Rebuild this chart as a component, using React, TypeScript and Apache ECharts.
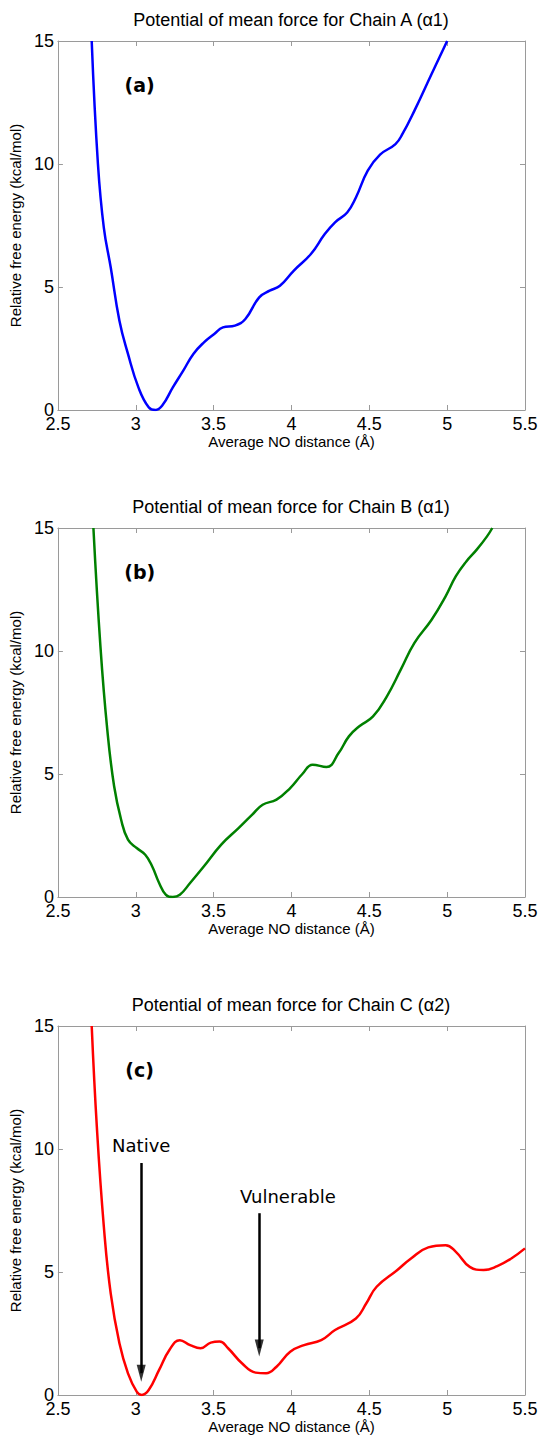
import React, { useEffect, useRef } from "react";
import * as echarts from "echarts";

// ---- Data ----
const xA = [2.717, 2.757, 2.795, 2.839, 2.895, 2.95, 3.017, 3.083, 3.127, 3.17, 3.238, 3.305, 3.37, 3.438, 3.504, 3.56, 3.637, 3.704, 3.793, 3.86, 3.926, 4.014, 4.125, 4.214, 4.28, 4.358, 4.414, 4.49, 4.569, 4.668, 4.713, 4.79, 4.9, 5.0];
const yA = [15, 10.0, 7.4, 5.8, 3.63, 2.28, 0.92, 0.11, 0, 0.18, 0.92, 1.6, 2.28, 2.75, 3.09, 3.36, 3.43, 3.7, 4.58, 4.85, 5.05, 5.66, 6.34, 7.15, 7.63, 8.03, 8.64, 9.73, 10.38, 10.81, 11.22, 12.17, 13.66, 15];

const xB = [2.728, 2.773, 2.817, 2.861, 2.906, 2.95, 3.006, 3.061, 3.105, 3.15, 3.194, 3.238, 3.283, 3.349, 3.438, 3.549, 3.66, 3.748, 3.815, 3.904, 3.992, 4.07, 4.136, 4.225, 4.303, 4.369, 4.436, 4.524, 4.613, 4.702, 4.79, 4.9, 4.99, 5.056, 5.123, 5.19, 5.256, 5.29];
const yB = [15, 10.19, 6.8, 4.5, 3.14, 2.33, 1.99, 1.72, 1.25, 0.57, 0.09, 0, 0.09, 0.57, 1.25, 2.13, 2.8, 3.35, 3.75, 3.96, 4.43, 5.0, 5.38, 5.28, 5.85, 6.53, 6.94, 7.34, 8.16, 9.24, 10.33, 11.27, 12.22, 13.04, 13.64, 14.12, 14.66, 15];

const xC = [2.717, 2.75, 2.795, 2.839, 2.895, 2.95, 3.006, 3.039, 3.083, 3.15, 3.216, 3.283, 3.349, 3.416, 3.482, 3.538, 3.593, 3.682, 3.77, 3.837, 3.904, 3.992, 4.081, 4.191, 4.28, 4.414, 4.48, 4.547, 4.68, 4.768, 4.879, 4.99, 5.056, 5.145, 5.234, 5.322, 5.412, 5.5];
const yC = [15, 10.9, 6.84, 4.13, 2.1, 0.88, 0.14, 0, 0.2, 1.02, 1.83, 2.23, 2.03, 1.9, 2.13, 2.17, 1.9, 1.29, 0.91, 0.88, 1.15, 1.76, 2.03, 2.23, 2.64, 3.11, 3.72, 4.4, 5.08, 5.55, 6.0, 6.09, 5.82, 5.21, 5.08, 5.24, 5.55, 5.96];

const titles = [
  "Potential of mean force for Chain A (\u03b11)",
  "Potential of mean force for Chain B (\u03b11)",
  "Potential of mean force for Chain C (\u03b12)",
];
const panelLabels = ["(a)", "(b)", "(c)"];
const panelLabelPos = [3.03, 13.2];
const colors = ["#0000ff", "#008000", "#ff0000"];

const arrowNames = ["Native", "Vulnerable"];
const arrowX = [3.035, 3.793];
const arrowTop = [9.43, 7.39];
const arrowTip = [0.54, 1.56];
const arrowLabelPos = [
  [3.04, 10.15],
  [3.98, 8.05],
];

const xMin = 2.5, xMax = 5.5, xStep = 0.5;
const yMin = 0, yMax = 15, yStep = 5;

const X_NAME = "Average NO distance (\u00c5)";
const Y_NAME = "Relative free energy (kcal/mol)";

// ---- Layout ----
const W = 542, H = 1439;
const GL = 57, GW = 468;
const gridTops = [41, 528, 1026];
const gridH = 369;
const ARROW_W = 9, ARROW_H = 17;

const AXIS_FONT = "'Liberation Sans', Arial, Helvetica, sans-serif";
const ANN_FONT = "'DejaVu Sans', Verdana, sans-serif";
const FRAME = "#9a9a9a";

const px = (x: number) => GL + ((x - xMin) / (xMax - xMin)) * GW;
const py = (y: number, g: number) => gridTops[g] + (1 - (y - yMin) / (yMax - yMin)) * gridH;

export default function App() {
  const ref = useRef<HTMLDivElement>(null);
  useEffect(() => {
    if (!ref.current) return;
    const chart = echarts.init(ref.current, null, { renderer: "svg" });
    const xs = [xA, xB, xC];
    const ys = [yA, yB, yC];

    const grid: any[] = [];
    const xAxis: any[] = [];
    const yAxis: any[] = [];
    const series: any[] = [];
    const graphic: any[] = [];

    for (let g = 0; g < 3; g++) {
      grid.push({ left: GL, top: gridTops[g], width: GW, height: gridH, containLabel: false });
      const lineCommon = { show: true, onZero: false, lineStyle: { color: FRAME, width: 1 } };
      const tickCommon = { show: true, inside: true, length: 5, lineStyle: { color: FRAME, width: 1 } };
      xAxis.push({
        gridIndex: g, type: "value", min: xMin, max: xMax, interval: xStep, position: "bottom",
        axisLine: lineCommon, axisTick: tickCommon, splitLine: { show: false },
        axisLabel: { color: "#000", fontSize: 18, fontFamily: AXIS_FONT, margin: 5 },
        name: X_NAME, nameLocation: "middle", nameGap: 24,
        nameTextStyle: { color: "#000", fontSize: 15, fontFamily: AXIS_FONT },
      });
      xAxis.push({
        gridIndex: g, type: "value", min: xMin, max: xMax, interval: xStep, position: "top",
        axisLine: lineCommon, axisTick: tickCommon, splitLine: { show: false },
        axisLabel: { show: false },
      });
      yAxis.push({
        gridIndex: g, type: "value", min: yMin, max: yMax, interval: yStep, position: "left",
        axisLine: lineCommon, axisTick: tickCommon, splitLine: { show: false },
        axisLabel: { color: "#000", fontSize: 18, fontFamily: AXIS_FONT, margin: 4 },
        name: Y_NAME, nameLocation: "middle", nameGap: 27,
        nameTextStyle: { color: "#000", fontSize: 15, fontFamily: AXIS_FONT },
      });
      yAxis.push({
        gridIndex: g, type: "value", min: yMin, max: yMax, interval: yStep, position: "right",
        axisLine: lineCommon, axisTick: tickCommon, splitLine: { show: false },
        axisLabel: { show: false },
      });

      series.push({
        type: "line",
        xAxisIndex: 2 * g,
        yAxisIndex: 2 * g,
        data: xs[g].map((x, i) => [x, ys[g][i]]),
        showSymbol: false,
        symbol: "none",
        smooth: 0.45,
        clip: true,
        lineStyle: { color: colors[g], width: 2.5 },
        silent: true,
        z: 2,
      });

      graphic.push({
        type: "text",
        x: GL + GW / 2,
        y: gridTops[g] - 21,
        style: {
          text: titles[g], textAlign: "center", textVerticalAlign: "middle",
          fontSize: 18, fontFamily: AXIS_FONT, fill: "#000",
        },
      });
      graphic.push({
        type: "text",
        x: px(panelLabelPos[0]),
        y: py(panelLabelPos[1], g),
        style: {
          text: panelLabels[g], textAlign: "center", textVerticalAlign: "middle",
          fontSize: 19, fontWeight: "bold", fontFamily: ANN_FONT, fill: "#000",
        },
      });
    }

    // Arrows in panel (c): shaft as markLine, head as a triangle symbol
    const headOffset = ((ARROW_H / 2) * (yMax - yMin)) / gridH;
    series.push({
      type: "scatter",
      xAxisIndex: 4,
      yAxisIndex: 4,
      silent: true,
      symbol: "triangle",
      symbolRotate: 180,
      symbolSize: [ARROW_W, ARROW_H],
      itemStyle: { color: "#000" },
      data: arrowX.map((x, i) => [x, arrowTip[i] + headOffset]),
      z: 3,
      markLine: {
        silent: true,
        symbol: ["none", "none"],
        label: { show: false },
        lineStyle: { color: "#000", width: 2.5, type: "solid" },
        emphasis: { disabled: true },
        data: arrowX.map((x, i) => [
          { coord: [x, arrowTop[i]] },
          { coord: [x, arrowTip[i] + headOffset] },
        ]),
      },
    });

    arrowNames.forEach((n, i) => {
      graphic.push({
        type: "text",
        x: px(arrowLabelPos[i][0]),
        y: py(arrowLabelPos[i][1], 2),
        style: {
          text: n, textAlign: "center", textVerticalAlign: "middle",
          fontSize: 18, fontFamily: ANN_FONT, fill: "#000",
        },
      });
    });

    chart.setOption({
      animation: false,
      backgroundColor: "#ffffff",
      grid, xAxis, yAxis, series, graphic,
    });
    return () => chart.dispose();
  }, []);
  return (
    <div
      ref={ref}
      style={{ position: "absolute", left: 0, top: 0, width: W, height: H }}
    />
  );
}
